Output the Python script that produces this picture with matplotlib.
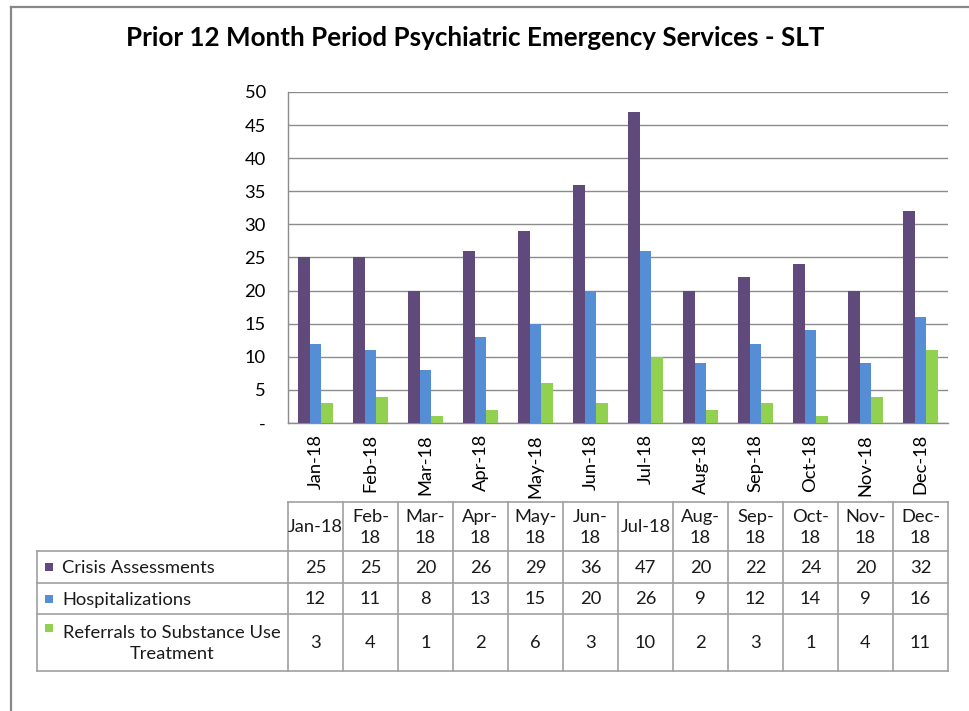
import matplotlib
matplotlib.use("Agg")
import matplotlib.pyplot as plt
from matplotlib.patches import Rectangle
from matplotlib.lines import Line2D
import numpy as np

months = ["Jan-18", "Feb-18", "Mar-18", "Apr-18", "May-18", "Jun-18",
          "Jul-18", "Aug-18", "Sep-18", "Oct-18", "Nov-18", "Dec-18"]
header_labels = ["Jan-18", "Feb-\n18", "Mar-\n18", "Apr-\n18", "May-\n18", "Jun-\n18",
                 "Jul-18", "Aug-\n18", "Sep-\n18", "Oct-\n18", "Nov-\n18", "Dec-\n18"]
crisis = [25, 25, 20, 26, 29, 36, 47, 20, 22, 24, 20, 32]
hosp = [12, 11, 8, 13, 15, 20, 26, 9, 12, 14, 9, 16]
referrals = [3, 4, 1, 2, 6, 3, 10, 2, 3, 1, 4, 11]
series_names = ["Crisis Assessments", "Hospitalizations",
                "Referrals to Substance Use\nTreatment"]
colors = ["#604A7B", "#558ED5", "#92D050"]
yticks = [0, 5, 10, 15, 20, 25, 30, 35, 40, 45, 50]
ytick_labels = ["-"] + [str(v) for v in yticks[1:]]

FONT = "Lato"
FS = 13.2
W, H = 969, 711
fig = plt.figure(figsize=(W / 100, H / 100), dpi=100)

def fx(px):
    return px / W

def fy(py):
    return 1 - py / H

# outer frame
fig.add_artist(Line2D([fx(11), fx(11)], [fy(7), 0], color="#888888", lw=1.6))
fig.add_artist(Line2D([fx(11), 1], [fy(7), fy(7)], color="#888888", lw=1.6))

# title
fig.text(fx(475), fy(38), "Prior 12 Month Period Psychiatric Emergency Services - SLT",
         ha="center", va="center", fontsize=18.7, fontweight="bold", family=FONT)

# plot area
L, R, T, B = 288, 948, 92, 423
ax = fig.add_axes([fx(L), fy(B), fx(R - L), (B - T) / H])
x = np.arange(len(months))
bw = 0.213
for i, (vals, c) in enumerate(zip([crisis, hosp, referrals], colors)):
    ax.bar(x + (i - 1) * bw, vals, width=bw, color=c, zorder=3)
ax.set_xlim(-0.5, len(months) - 0.5)
ax.set_ylim(0, 50)
ax.set_yticks(yticks)
ax.set_yticklabels(ytick_labels, fontsize=FS, family=FONT)
ax.yaxis.grid(True, color="#8c8c8c", lw=1.0, zorder=0)
ax.set_axisbelow(True)
ax.tick_params(axis="y", length=0, pad=16)
for lab in ax.get_yticklabels():
    lab.set_horizontalalignment("right")
ax.set_xticks(x)
ax.set_xticklabels(months, rotation=90, fontsize=FS, family=FONT)
ax.tick_params(axis="x", length=0, pad=8)
for s in ["top", "right"]:
    ax.spines[s].set_visible(False)
for s in ["left", "bottom"]:
    ax.spines[s].set_color("#8c8c8c")
    ax.spines[s].set_linewidth(1.0)

# data table
tab = fig.add_axes([0, 0, 1, 1])
tab.set_xlim(0, W)
tab.set_ylim(H, 0)
tab.axis("off")
col_w = (R - L) / len(months)
row_y = [502, 551, 583, 614, 671]
grid_c = "#a0a0a0"
lab_left = 37
tab.plot([L, R], [row_y[0], row_y[0]], color=grid_c, lw=1.2)
for j in range(len(months) + 1):
    xx = L + j * col_w
    tab.plot([xx, xx], [row_y[0], row_y[-1]], color=grid_c, lw=1.2)
for k in range(1, len(row_y)):
    tab.plot([lab_left, R], [row_y[k], row_y[k]], color=grid_c, lw=1.2)
tab.plot([lab_left, lab_left], [row_y[1], row_y[-1]], color=grid_c, lw=1.2)

for j, h in enumerate(header_labels):
    tab.text(L + (j + 0.5) * col_w, (row_y[0] + row_y[1]) / 2 + 1, h,
             ha="center", va="center", fontsize=FS, family=FONT,
             linespacing=1.4, color="#1a1a1a")

data_rows = [crisis, hosp, referrals]
for r, (vals, name, c) in enumerate(zip(data_rows, series_names, colors)):
    y0, y1 = row_y[r + 1], row_y[r + 2]
    yc = (y0 + y1) / 2
    for j, v in enumerate(vals):
        tab.text(L + (j + 0.5) * col_w, yc + 1, str(v), ha="center", va="center",
                 fontsize=FS, family=FONT, color="#1a1a1a")
    if "\n" in name:
        tab.add_patch(Rectangle((45, y0 + 10), 8, 8, color=c, lw=0))
        tab.text(172, yc + 1, name, ha="center", va="center", fontsize=FS,
                 family=FONT, linespacing=1.4, color="#1a1a1a")
    else:
        tab.add_patch(Rectangle((45, yc - 4), 8, 8, color=c, lw=0))
        tab.text(62, yc + 1, name, ha="left", va="center", fontsize=FS,
                 family=FONT, color="#1a1a1a")

fig.savefig("out.png", dpi=100)
